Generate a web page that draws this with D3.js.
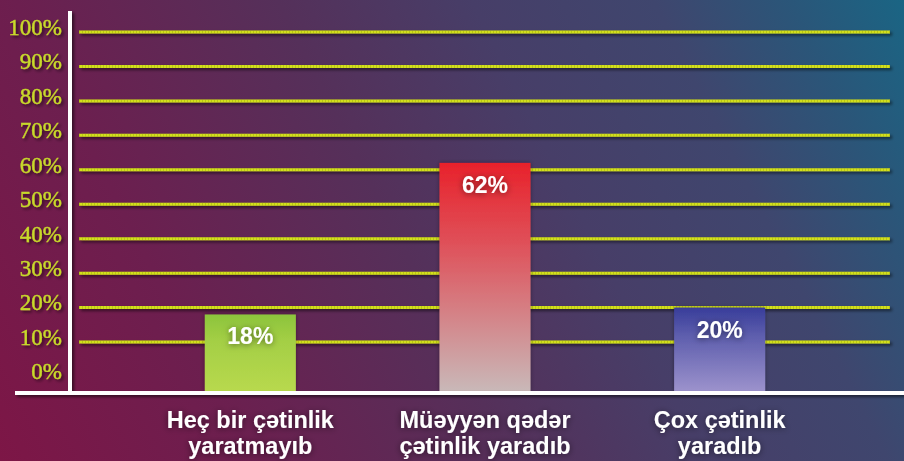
<!DOCTYPE html>
<html>
<head>
<meta charset="utf-8">
<script src="https://cdn.jsdelivr.net/npm/d3@7"></script>
<style>
  html, body { margin: 0; padding: 0; background: #5a2c58; }
  svg { display: block; }
</style>
</head>
<body>
<svg id="chart" width="904" height="461"></svg>
<script>
// ---- data ----
const categories = [
  ["Heç bir çətinlik", "yaratmayıb"],
  ["Müəyyən qədər", "çətinlik yaradıb"],
  ["Çox çətinlik", "yaradıb"]
];
const values = [18, 62, 20];
const valueLabels = ["18%", "62%", "20%"];
const tickValues = [0, 10, 20, 30, 40, 50, 60, 70, 80, 90, 100];
const tickLabels = ["0%", "10%", "20%", "30%", "40%", "50%", "60%", "70%", "80%", "90%", "100%"];
const barColors = [
  ["#8cc43c", "#a4cf45", "#b8d94e"],
  ["#e8222b", "#df5059", "#c9b8b8"],
  ["#383d9a", "#5f5fae", "#9c92cc"]
];

const W = 904, H = 461;
const svg = d3.select("#chart");
const defs = svg.append("defs");

// background gradient
const bg = defs.append("linearGradient").attr("id", "bg")
  .attr("gradientUnits", "userSpaceOnUse")
  .attr("x1", 0).attr("y1", 461).attr("x2", 904).attr("y2", 0);
[[0, "#7d1646"], [0.22, "#6c1f4f"], [0.45, "#55305a"], [0.62, "#473e68"],
 [0.78, "#3f466e"], [0.9, "#2a5679"], [1, "#1a6584"]]
  .forEach(([o, c]) => bg.append("stop").attr("offset", o).attr("stop-color", c));
svg.append("rect").attr("width", W).attr("height", H).attr("fill", "url(#bg)");

// filters (user space with a generous region so thin lines and offset text keep it)
function shadowFilter(id, dx, dy, sd, op) {
  const f = defs.append("filter").attr("id", id)
    .attr("filterUnits", "userSpaceOnUse")
    .attr("x", -W).attr("y", -H).attr("width", 3 * W).attr("height", 3 * H);
  f.append("feDropShadow").attr("dx", dx).attr("dy", dy).attr("stdDeviation", sd)
    .attr("flood-color", "#000").attr("flood-opacity", op);
}
shadowFilter("shadow", 2, 2, 1.5, 0.55);
shadowFilter("glow", 0, 1, 3, 0.5);
shadowFilter("barsh", 0, 0, 2, 0.35);

barColors.forEach((cs, i) => {
  const g = defs.append("linearGradient").attr("id", "bar" + i)
    .attr("x1", 0).attr("y1", 0).attr("x2", 0).attr("y2", 1);
  g.append("stop").attr("offset", 0).attr("stop-color", cs[0]);
  g.append("stop").attr("offset", 0.35).attr("stop-color", cs[1]);
  g.append("stop").attr("offset", 1).attr("stop-color", cs[2]);
});

// scales
const y = d3.scaleLinear().domain([0, 100]).range([376.5, 32]);
const x = d3.scaleBand().domain(d3.range(categories.length)).range([133, 837]).paddingInner(0.612).paddingOuter(0.306);
const baseY = 391;

// gridlines
const gridTicks = tickValues.filter(v => v > 0);
const grid = svg.append("g").attr("filter", "url(#shadow)");
grid.selectAll("line.g").data(gridTicks).join("line").attr("class", "g")
  .attr("x1", 79).attr("x2", 890)
  .attr("y1", d => y(d)).attr("y2", d => y(d))
  .attr("stroke", "#d3e01e").attr("stroke-width", 3);
grid.selectAll("line.d").data(gridTicks).join("line").attr("class", "d")
  .attr("x1", 79).attr("x2", 890)
  .attr("y1", d => y(d)).attr("y2", d => y(d))
  .attr("stroke", "#9aa514").attr("stroke-opacity", 0.45).attr("stroke-width", 3)
  .attr("stroke-dasharray", "1,2");

// y tick labels via axis
const yAxis = d3.axisLeft(y).tickValues(tickValues).tickFormat((d, i) => tickLabels[i]).tickSize(0).tickPadding(0);
const ya = svg.append("g").attr("transform", "translate(62,-5)").call(yAxis);
ya.select(".domain").remove();
ya.selectAll("text")
  .attr("font-family", "'Liberation Serif', 'DejaVu Serif', serif")
  .attr("font-size", 23)
  .attr("fill", "#c8da2a")
  .attr("stroke", "#c8da2a").attr("stroke-width", 0.4)
  .attr("filter", "url(#shadow)");

// bars
svg.append("g").selectAll("rect").data(values).join("rect")
  .attr("x", (d, i) => x(i))
  .attr("width", x.bandwidth())
  .attr("y", d => y(d))
  .attr("height", d => baseY - y(d))
  .attr("fill", (d, i) => `url(#bar${i})`)
  .attr("filter", "url(#barsh)");

// value labels
svg.append("g").selectAll("text").data(values).join("text")
  .attr("x", (d, i) => x(i) + x.bandwidth() / 2)
  .attr("y", d => y(d) + 30)
  .attr("text-anchor", "middle")
  .attr("font-family", "'Liberation Sans', Arial, sans-serif")
  .attr("font-weight", "bold")
  .attr("font-size", 23)
  .attr("fill", "#ffffff")
  .attr("filter", "url(#glow)")
  .text((d, i) => valueLabels[i]);

// axes lines
const axisG = svg.append("g").attr("filter", "url(#shadow)");
axisG.append("line").attr("x1", 70).attr("x2", 70).attr("y1", 11).attr("y2", baseY)
  .attr("stroke", "#ffffff").attr("stroke-width", 4);
axisG.append("line").attr("x1", 15).attr("x2", 904).attr("y1", baseY + 2).attr("y2", baseY + 2)
  .attr("stroke", "#ffffff").attr("stroke-width", 4);

// category labels
const cat = svg.append("g").selectAll("text").data(categories).join("text")
  .attr("text-anchor", "middle")
  .attr("font-family", "'Liberation Sans', Arial, sans-serif")
  .attr("font-weight", "bold")
  .attr("font-size", 23.5)
  .attr("fill", "#ffffff")
  .attr("filter", "url(#glow)");
cat.each(function (d, i) {
  const t = d3.select(this);
  d.forEach((line, j) => {
    t.append("tspan").attr("x", x(i) + x.bandwidth() / 2).attr("y", 428 + j * 26).text(line);
  });
});
</script>
</body>
</html>
